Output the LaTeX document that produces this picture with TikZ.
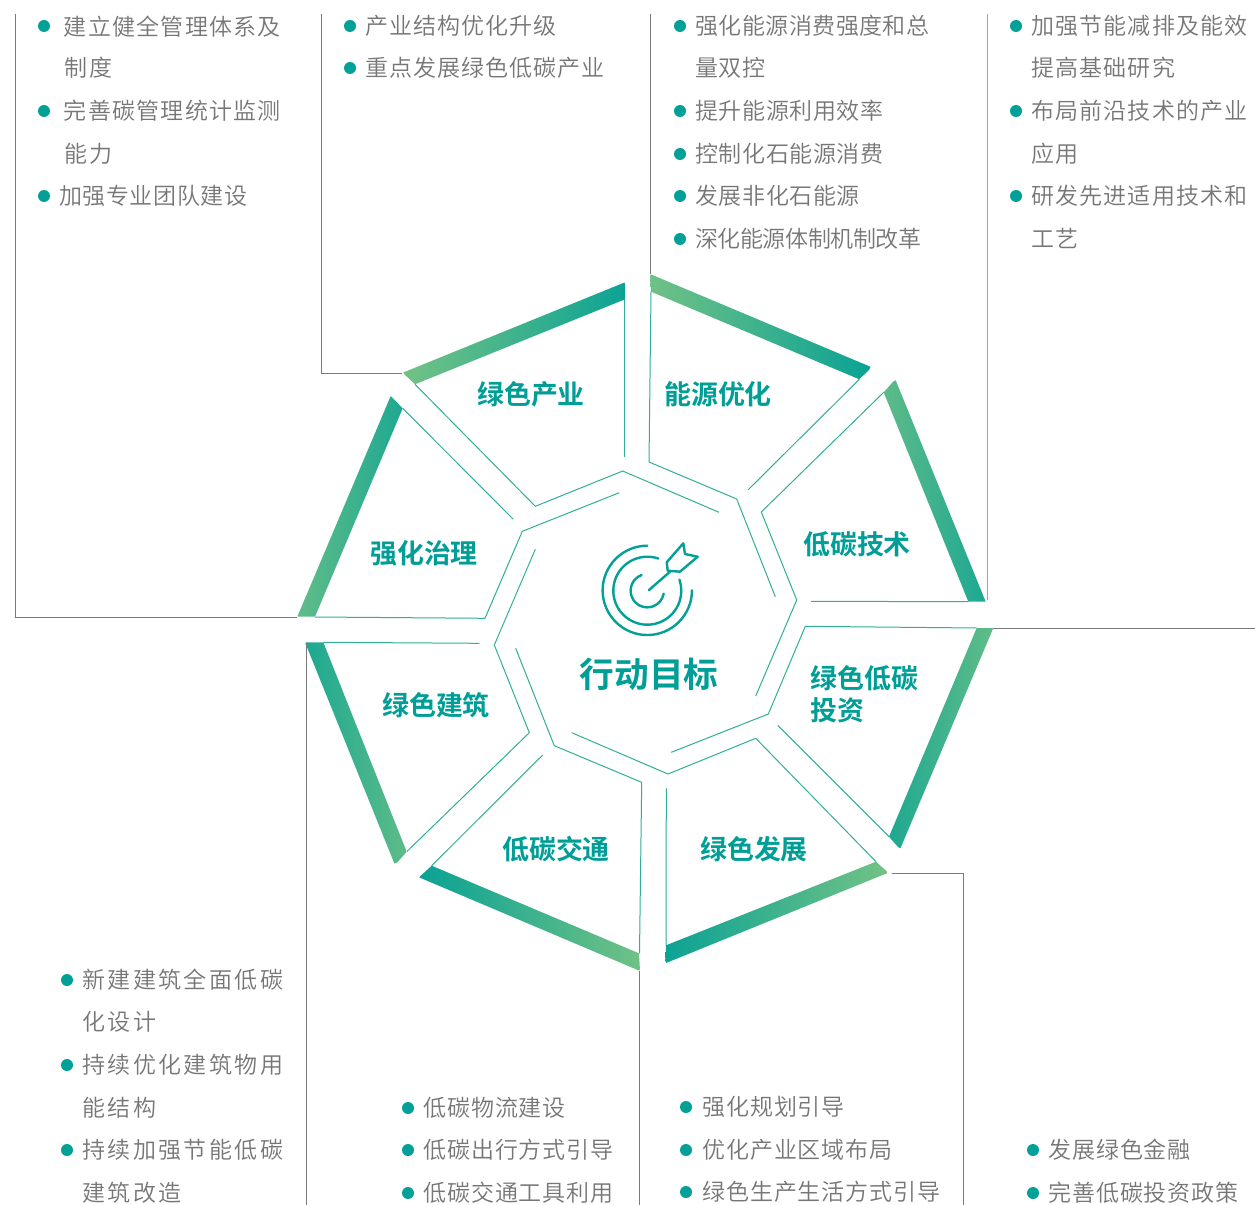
\documentclass[tikz,border=0pt]{standalone}
\usepackage{fontspec}
\usetikzlibrary{calc}
\setmainfont{Liberation Sans}
\newfontfamily\cjkl{Noto Sans CJK SC DemiLight}
\newfontfamily\cjkb{Noto Sans CJK SC Bold}
\definecolor{teal}{HTML}{02A096}
\definecolor{leaf}{HTML}{7AC484}
\definecolor{thin}{HTML}{30AE97}
\definecolor{lead}{HTML}{7A7A7A}
\definecolor{body}{HTML}{767676}
\definecolor{labelc}{HTML}{009E96}
\tikzset{
  x=0.75pt,y=-0.75pt,
  edge/.style={draw=thin,line width=0.75pt,line join=miter},
  leader/.style={draw=lead,line width=0.75pt},
  dot/.style={circle,fill=teal,inner sep=0pt,minimum size=9pt},
  item/.style={anchor=west,inner sep=0pt,text=body,font=\cjkl\fontsize{17.25pt}{20pt}\selectfont,text height=14.5pt,text depth=2.2pt},
  head/.style={anchor=center,inner sep=0pt,text=labelc,font=\cjkb\fontsize{20.2pt}{24pt}\selectfont},
  icon/.style={draw=teal,line width=1.8pt,line cap=round,line join=round},
}
% bar: four corners, gradient start, gradient end, colours at the two ends
\newcommand{\gbar}[8]{%
  \begin{scope}
    \clip #1 -- #2 -- #3 -- #4 -- cycle;
    \path let \p1=($#6-#5$),\n1={atan2(\y1,\x1)},\n2={veclen(\x1,\y1)} in
      \pgfextra{\xdef\gang{\n1}\xdef\glen{\n2}};
    \shade[left color=#7,right color=#8,shift={#5},rotate=\gang] (-2pt,-40pt) rectangle (\glen+2pt,40pt);
  \end{scope}}
\newcommand{\li}[6][0]{% spacing, name, x, y, text
  \node[item] (#2) at (#3,#4+0.6) {\addfontfeature{LetterSpace=#1}#5#6};}
\newcommand{\bul}[3]{\node[dot] (#1) at (#2,#3) {};}
\begin{document}
\begin{tikzpicture}
\useasboundingbox (0,0) rectangle (1255,1205);
% bars
\gbar{(402.7,372.7)}{(625,282.3)}{(625,299.3)}{(415,384.3)}{(625,291)}{(409,379)}{leaf}{teal}
\gbar{(390.7,396)}{(402.7,408.3)}{(315,616.7)}{(297.3,616.7)}{(397,402)}{(306,617)}{leaf}{teal}
\gbar{(650,274)}{(871.7,367.3)}{(859.3,379.3)}{(651,291.7)}{(865,373)}{(650,283)}{leaf}{teal}
\gbar{(895.3,379.3)}{(985.7,601.7)}{(968.3,601.7)}{(883.7,392.3)}{(977,602)}{(889,386)}{leaf}{teal}
\gbar{(993.3,628)}{(900,849.3)}{(889,836.7)}{(976.7,628)}{(895,843)}{(985,628)}{teal}{leaf}
\gbar{(888.3,872.7)}{(665.3,963.3)}{(666,945.3)}{(876,861.7)}{(665.5,954)}{(882,867)}{teal}{leaf}
\gbar{(419,877.3)}{(640,971)}{(639,953.3)}{(431.7,865.7)}{(425,871)}{(640,962)}{teal}{leaf}
\gbar{(305,642.3)}{(395,865)}{(406.7,851.7)}{(323.3,642.3)}{(314,642.3)}{(401,858)}{teal}{leaf}
% thin outlines
\draw[edge] (624.3,299)--(624.3,456.7);
\draw[edge] (415,384.3)--(535.3,506.3)--(622.7,471)--(719,512.3);
\draw[edge] (402.7,408.3)--(513.3,519.3);
\draw[edge] (315,617)--(485,618.3)--(522.3,531.3)--(619.3,492.7);
\draw[edge] (651,291.7)--(649,462)--(736.7,499)--(775.3,596.7);
\draw[edge] (859.3,379.3)--(748,490);
\draw[edge] (883.7,392.3)--(761.3,512)--(796.7,600)--(755.7,696);
\draw[edge] (968.3,601.7)--(811,601.3);
\draw[edge] (976.7,628)--(805.3,626.3)--(768.3,714)--(671.3,752.3);
\draw[edge] (889,836.7)--(777.7,725.3);
\draw[edge] (666,945.3)--(666.3,788.3);
\draw[edge] (876,861.7)--(755.7,738.3)--(668,774)--(571.7,732.7);
\draw[edge] (639.5,953.3)--(641.7,782.3)--(554.3,745.7)--(515.7,648.3);
\draw[edge] (431.7,865.7)--(542.7,755);
\draw[edge] (323.3,642.3)--(479.3,643.3);
\draw[edge] (406.7,851.7)--(529.3,732.7)--(494.3,645)--(535.3,549.3);
% leaders
\coordinate (la1) at (15,14); \coordinate (la2) at (15,617.5); \coordinate (la3) at (297,617.5);
\coordinate (lb1) at (321.5,14); \coordinate (lb2) at (321.5,373.5); \coordinate (lb3) at (402,373.5);
\coordinate (lc1) at (650.5,14); \coordinate (lc2) at (650.5,274);
\coordinate (ld1) at (987,14); \coordinate (ld2) at (987,600);
\coordinate (le1) at (993,628); \coordinate (le2) at (1255,628);
\coordinate (lf1) at (892,873.5); \coordinate (lf2) at (963.5,873.5); \coordinate (lf3) at (963.5,1205);
\coordinate (lg1) at (639.5,971); \coordinate (lg2) at (639.5,1205);
\coordinate (lh1) at (306.5,643); \coordinate (lh2) at (306.5,1205);
\draw[leader] (la1)--(la2)--(la3);
\draw[leader] (lb1)--(lb2)--(lb3);
\draw[leader] (lc1)--(lc2);
\draw[leader,draw=lead!70] (ld1)--(ld2);
\draw[leader] (le1)--(le2);
\draw[leader] (lf1)--(lf2)--(lf3);
\draw[leader] (lg1)--(lg2);
\draw[leader] (lh1)--(lh2);
% icon
\begin{scope}[shift={(647.3,590.7)}]
\draw[icon] (0,-45) arc[start angle=90,end angle=360,radius=33.5pt];
\draw[icon] (71:25.5pt) arc[start angle=71,end angle=379,radius=25.5pt];
\draw[icon] (110:12.5pt) arc[start angle=110,end angle=350,radius=12.5pt];
\end{scope}
\draw[icon] (649,590)--(670,571.7);
\draw[icon] (666.7,562.3)--(683.3,543.3)--(685,554)--(697.7,556.7)--(680,571.7)--(667.7,570.7)--cycle;
% headings
\node[head] (h1) at (531,394.5) {绿色产业};
\node[head] (h2) at (424,553) {强化治理};
\node[head] (h3) at (718,394.5) {能源优化};
\node[head] (h4) at (857,544.5) {低碳技术};
\node[head,anchor=west] (h5a) at (810.5,678.5) {绿色低碳};
\node[head,anchor=west] (h5b) at (810.5,710.5) {投资};
\node[head] (h6) at (754,849.5) {绿色发展};
\node[head] (h7) at (556,849.5) {低碳交通};
\node[head] (h8) at (436,705.5) {绿色建筑};
\node[head,font=\cjkb\fontsize{26pt}{30pt}\selectfont] (hc) at (649,674.5) {行动目标};
% lists
\bul{a1}{44}{26}\li[5.5]{ta1}{63.5}{27}{建立健全管理体系及}{}
\li[5.5]{ta2}{64.5}{68}{制度}{}
\bul{a2}{44}{111}\li[5.5]{ta3}{63.5}{111}{完善碳管理统计监测}{}
\li[5.5]{ta4}{64.5}{154}{能力}{}
\bul{a3}{44}{196}\li[2.5]{ta5}{59}{196}{加强专业团队建设}{}
\bul{b1}{350}{26}\li[4.6]{tb1}{365}{26}{产业结构优化升级}{}
\bul{b2}{350}{68}\li[4.6]{tb2}{365}{68}{重点发展绿色低碳产业}{}
\bul{c1}{680}{26}\li[2]{tc1}{695}{26}{强化能源消费强度和总}{}
\li[2]{tc2}{695}{68}{量双控}{}
\bul{c2}{680}{111}\li[2.5]{tc3}{695}{111}{提升能源利用效率}{}
\bul{c3}{680}{154}\li[2.5]{tc4}{695}{154}{控制化石能源消费}{}
\bul{c4}{680}{196}\li[2.5]{tc5}{695}{196}{发展非化石能源}{}
\bul{c5}{680}{239}\li[-2]{tc6}{695}{239}{深化能源体制机制改革}{}
\bul{d1}{1016}{26}\li[5]{td1}{1031}{26}{加强节能减排及能效}{}
\li[5]{td2}{1031}{68}{提高基础研究}{}
\bul{d2}{1016}{111}\li[5]{td3}{1031}{111}{布局前沿技术的产业}{}
\li[5]{td4}{1031}{154}{应用}{}
\bul{d3}{1016}{196}\li[5]{td5}{1031}{196}{研发先进适用技术和}{}
\li[5]{td6}{1031}{239}{工艺}{}
\bul{e1}{67}{980}\li[10.5]{te1}{82}{980}{新建建筑全面低碳}{}
\li[10.5]{te2}{82}{1022}{化设计}{}
\bul{e2}{67}{1065}\li[10.5]{te3}{82}{1065}{持续优化建筑物用}{}
\li[10.5]{te4}{82}{1108}{能结构}{}
\bul{e3}{67}{1150}\li[10.5]{te5}{82}{1150}{持续加强节能低碳}{}
\li[10.5]{te6}{82}{1193}{建筑改造}{}
\bul{f1}{408}{1108}\li[4]{tf1}{423}{1108}{低碳物流建设}{}
\bul{f2}{408}{1150}\li[4]{tf2}{423}{1150}{低碳出行方式引导}{}
\bul{f3}{408}{1193}\li[4]{tf3}{423}{1193}{低碳交通工具利用}{}
\bul{g1}{686}{1107}\li[4]{tg1}{702}{1107}{强化规划引导}{}
\bul{g2}{686}{1150}\li[4]{tg2}{702}{1150}{优化产业区域布局}{}
\bul{g3}{686}{1192}\li[4]{tg3}{702}{1192}{绿色生产生活方式引导}{}
\bul{h1b}{1033}{1150}\li[4]{th1}{1048}{1150}{发展绿色金融}{}
\bul{h2b}{1033}{1193}\li[4]{th2}{1048}{1193}{完善低碳投资政策}{}
\end{tikzpicture}
\end{document}
